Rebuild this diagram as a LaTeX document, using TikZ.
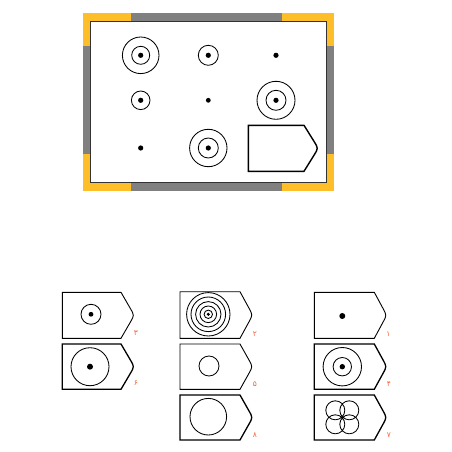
\documentclass[tikz,border=0pt]{standalone}
\usepackage{fontspec}
\usetikzlibrary{calc}
\newfontfamily\arabicfont[Script=Arabic]{DejaVu Sans}
\definecolor{frameyellow}{HTML}{FDBE2A}
\definecolor{framegray}{HTML}{808080}
\definecolor{numred}{HTML}{F0643A}
\tikzset{
  ring/.style={draw=black, line width=0.85pt},
  blackdot/.style={fill=black},
  tagline/.style={draw=black, line width=0.9pt, fill=white},
  tagthick/.style={draw=black, line width=1.3pt, fill=white},
  num/.style={text=numred, font=\arabicfont\fontsize{7.5}{8}\selectfont, inner sep=0pt},
}
% #1 left, #2 top, #3 right, #4 tip x, #5 bottom, #6 style
\newcommand\tagbox[6]{%
  \draw[#6] (#1,#2) -- (#3,#2) -- ($(#3,#2)!0.7!(#4,{(#2+#5)/2})$)
    .. controls (#4,{(#2+#5)/2}) .. ($(#3,#5)!0.7!(#4,{(#2+#5)/2})$)
    -- (#3,#5) -- (#1,#5) -- cycle;}
\begin{document}
\begin{tikzpicture}[x=1pt,y=-1pt]
\useasboundingbox (0,0) rectangle (452,452);
% frame
\fill[framegray] (82.7,13) rectangle (334,190.7);
\fill[frameyellow] (82.7,13) rectangle (130.7,46.3);
\fill[frameyellow] (281.7,13) rectangle (334,46.3);
\fill[frameyellow] (82.7,154) rectangle (130.7,190.7);
\fill[frameyellow] (281.7,154) rectangle (334,190.7);
\draw[fill=white, draw=black!80, line width=0.8pt] (90,21.3) rectangle (326.7,182);
% row 1
\draw[ring] (140.7,55.3) circle (18.3) (140.7,55.3) circle (9);
\fill[blackdot] (140.7,55.3) circle (2.6);
\draw[ring] (208.3,55.3) circle (10);
\fill[blackdot] (208.3,55.3) circle (2.6);
\fill[blackdot] (276,55.3) circle (2.6);
% row 2
\draw[ring] (140.7,100.3) circle (9.3);
\fill[blackdot] (140.7,100.3) circle (2.6);
\fill[blackdot] (208.3,100.3) circle (2.4);
\draw[ring] (276,100.3) circle (19) (276,100.3) circle (10);
\fill[blackdot] (276,100.3) circle (2.6);
% row 3
\fill[blackdot] (140.7,148) circle (2.6);
\draw[ring] (208.3,148) circle (18.7) (208.3,148) circle (10);
\fill[blackdot] (208.3,148) circle (2.6);
\tagbox{248.3}{125.3}{304}{318.3}{171.3}{tagline, line width=1.4pt}
% bottom panels, column 1
\tagbox{62.3}{292.3}{121}{134.3}{338.3}{tagline}
\draw[ring] (91,314.3) circle (10);
\fill[blackdot] (91,314.3) circle (2.4);
\node[num] (n3) at (136,333.5) {۳};
\tagbox{62.3}{344}{121}{134.3}{389.3}{tagthick}
\draw[ring] (90,366.7) circle (19);
\fill[blackdot] (90,366.7) circle (3);
\node[num] (n6) at (136,383.5) {۶};
% column 2
\tagbox{180}{291.7}{240}{252.7}{338.3}{tagline}
\draw[ring] (208.3,314.3) circle (21.7) (208.3,314.3) circle (17.3)
  (208.3,314.3) circle (12.7) (208.3,314.3) circle (8.3) (208.3,314.3) circle (4.2);
\fill[blackdot] (208.3,314.3) circle (1.7);
\node[num] (n2) at (255,334) {۲};
\tagbox{180}{344}{240}{252.7}{389.3}{tagline}
\draw[ring] (209,366) circle (10);
\node[num] (n5) at (255,384) {۵};
\tagbox{180}{395}{240}{252.7}{440}{tagthick}
\draw[ring] (208.3,416.7) circle (18.3);
\node[num] (n8) at (255,435.5) {۸};
% column 3
\tagbox{314.3}{292.3}{374.3}{386.7}{338.3}{tagline}
\fill[blackdot] (342.3,316) circle (3);
\node[num] (n1) at (388.5,334) {۱};
\tagbox{314.3}{344}{374.3}{386.7}{389.3}{tagthick}
\draw[ring] (342.3,366.7) circle (19.2) (342.3,366.7) circle (9.2);
\fill[blackdot] (342.3,366.7) circle (2.7);
\node[num] (n4) at (389,384) {۴};
\tagbox{314.3}{395}{374.3}{386.7}{440}{tagthick}
\draw[ring] (335.3,410.3) circle (9.5) (349.3,410.3) circle (9.5)
  (335.3,424.3) circle (9.5) (349.3,424.3) circle (9.5);
\node[num] (n7) at (389,435.5) {۷};
\end{tikzpicture}
\end{document}
